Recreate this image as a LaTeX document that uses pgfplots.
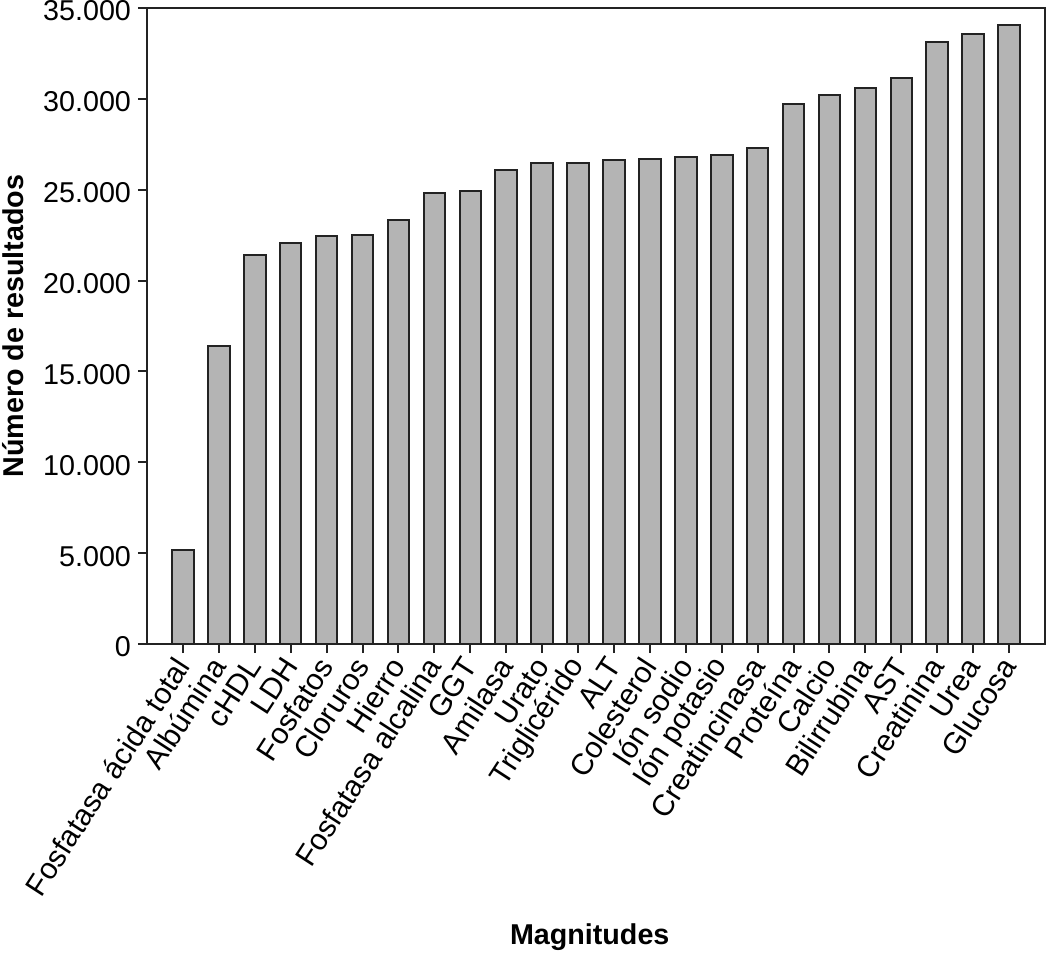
\documentclass[border=0pt]{standalone}
\usepackage{fontspec}
\setmainfont{Liberation Sans}
\usepackage{pgfplots}
\pgfplotsset{compat=1.18}
\definecolor{barfill}{RGB}{180,180,180}
\definecolor{edge}{RGB}{35,35,35}
\newcommand{\lab}{\fontsize{14.4}{16}\selectfont}
\begin{document}
\begin{tikzpicture}
\begin{axis}[
    scale only axis,
    width=449bp, height=318bp,
    xmin=-1, xmax=24,
    ymin=0, ymax=35000,
    enlargelimits=false,
    ybar, bar width=0.6,
    xtick=data,
    xticklabels={Fosfatasa ácida total, Albúmina, cHDL, LDH, Fosfatos,
        Cloruros, Hierro, Fosfatasa alcalina, GGT, Amilasa, Urato,
        Triglicérido, ALT, Colesterol, Ión sodio, Ión potasio,
        Creatincinasa, Proteína, Calcio, Bilirrubina, AST, Creatinina,
        Urea, Glucosa},
    ytick={0,5000,...,35000},
    scaled y ticks=false,
    /pgf/number format/1000 sep={.},
    /pgf/number format/assume math mode=true,
    tick pos=left,
    tick align=outside,
    major tick length=4.5bp,
    tick style={line width=1bp, edge},
    axis line style={line width=1bp, edge},
    xticklabel style={rotate=57, anchor=east, yshift=-2bp,
        font=\fontsize{15}{17}\selectfont},
    yticklabel style={font=\lab, yshift=-1.5bp},
    xlabel={\textbf{Magnitudes}},
    ylabel={\textbf{Número de resultados}},
    xlabel style={font=\lab, at={(axis description cs:0.493,-0.4607)}, anchor=center},
    ylabel style={font=\lab, at={(axis description cs:-0.149,0.5)}, anchor=center, rotate=0},
]
\addplot[fill=barfill, draw=edge, line width=1bp] coordinates {
    (0, 5180) (1, 16390) (2, 21410) (3, 22050) (4, 22440) (5, 22530)
    (6, 23310) (7, 24800) (8, 24930) (9, 26080) (10, 26470) (11, 26450)
    (12, 26610) (13, 26670) (14, 26820) (15, 26930) (16, 27310)
    (17, 29690) (18, 30200) (19, 30590) (20, 31170) (21, 33130)
    (22, 33590) (23, 34070)
};
\end{axis}
\pgfresetboundingbox
\path ([xshift=-73.5bp,yshift=-155bp]current axis.south west)
    rectangle ([xshift=4bp,yshift=4bp]current axis.north east);
\end{tikzpicture}
\end{document}
